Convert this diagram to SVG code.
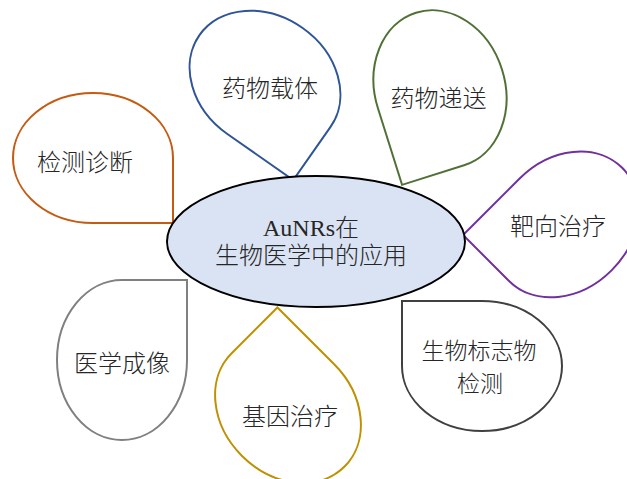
<svg xmlns="http://www.w3.org/2000/svg" xmlns:xlink="http://www.w3.org/1999/xlink" width="627" height="479" viewBox="0 0 627 479">
<style>
.drop{fill:#ffffff;stroke-width:2;}
.lbl{font-family:"Noto Sans CJK SC","Noto Sans",sans-serif;font-size:24px;font-weight:300;fill:#262626;text-anchor:middle;}
.sm{font-size:23px;}
.ctr{font-family:"Liberation Serif","Noto Sans CJK SC",serif;font-size:24px;font-weight:300;fill:#262626;text-anchor:middle;}
</style>
<defs>
<path id="drop" d="M -65,0 A 65 80 0 0 1 0,-80 L 65,-80 L 65,0 A 65 80 0 0 1 0,80 A 65 80 0 0 1 -65,0 Z"/>
</defs>
<rect width="627" height="479" fill="#ffffff"/>
<g id="node-carrier">
<use xlink:href="#drop" class="drop" stroke="#2F5597" transform="translate(265,81) rotate(125)"/>
<text class="lbl" x="270" y="97">药物载体</text>
</g>
<g id="node-delivery">
<use xlink:href="#drop" class="drop" stroke="#4F7136" transform="translate(440,89) rotate(162.5)"/>
<text class="lbl" x="438.5" y="107">药物递送</text>
</g>
<g id="node-diagnosis">
<use xlink:href="#drop" class="drop" stroke="#C55A11" transform="translate(93,158) rotate(90)"/>
<text class="lbl" x="85" y="171">检测诊断</text>
</g>
<g id="node-targeted">
<use xlink:href="#drop" class="drop" stroke="#7030A0" transform="translate(565.6,224.4) rotate(-135)"/>
<text class="lbl" x="558" y="235">靶向治疗</text>
</g>
<g id="node-biomarker">
<use xlink:href="#drop" class="drop" stroke="#404040" transform="translate(482,366) rotate(-90)"/>
<text class="lbl sm" x="479" y="359">生物标志物</text>
<text class="lbl sm" x="480" y="392">检测</text>
</g>
<g id="node-imaging">
<use xlink:href="#drop" class="drop" stroke="#808080" transform="translate(122,360)"/>
<text class="lbl" x="122" y="372">医学成像</text>
</g>
<g id="node-gene">
<use xlink:href="#drop" class="drop" stroke="#BF9000" transform="translate(288,410) rotate(-45)"/>
<text class="lbl" x="290" y="425">基因治疗</text>
</g>
<g id="node-center">
<ellipse cx="316" cy="241.5" rx="149" ry="65.5" fill="#DAE3F3" stroke="#000000" stroke-width="2"/>
<text class="ctr" x="311" y="236">AuNRs在</text>
<text class="ctr" x="311" y="264">生物医学中的应用</text>
</g>
<g id="connectors"></g>
</svg>
